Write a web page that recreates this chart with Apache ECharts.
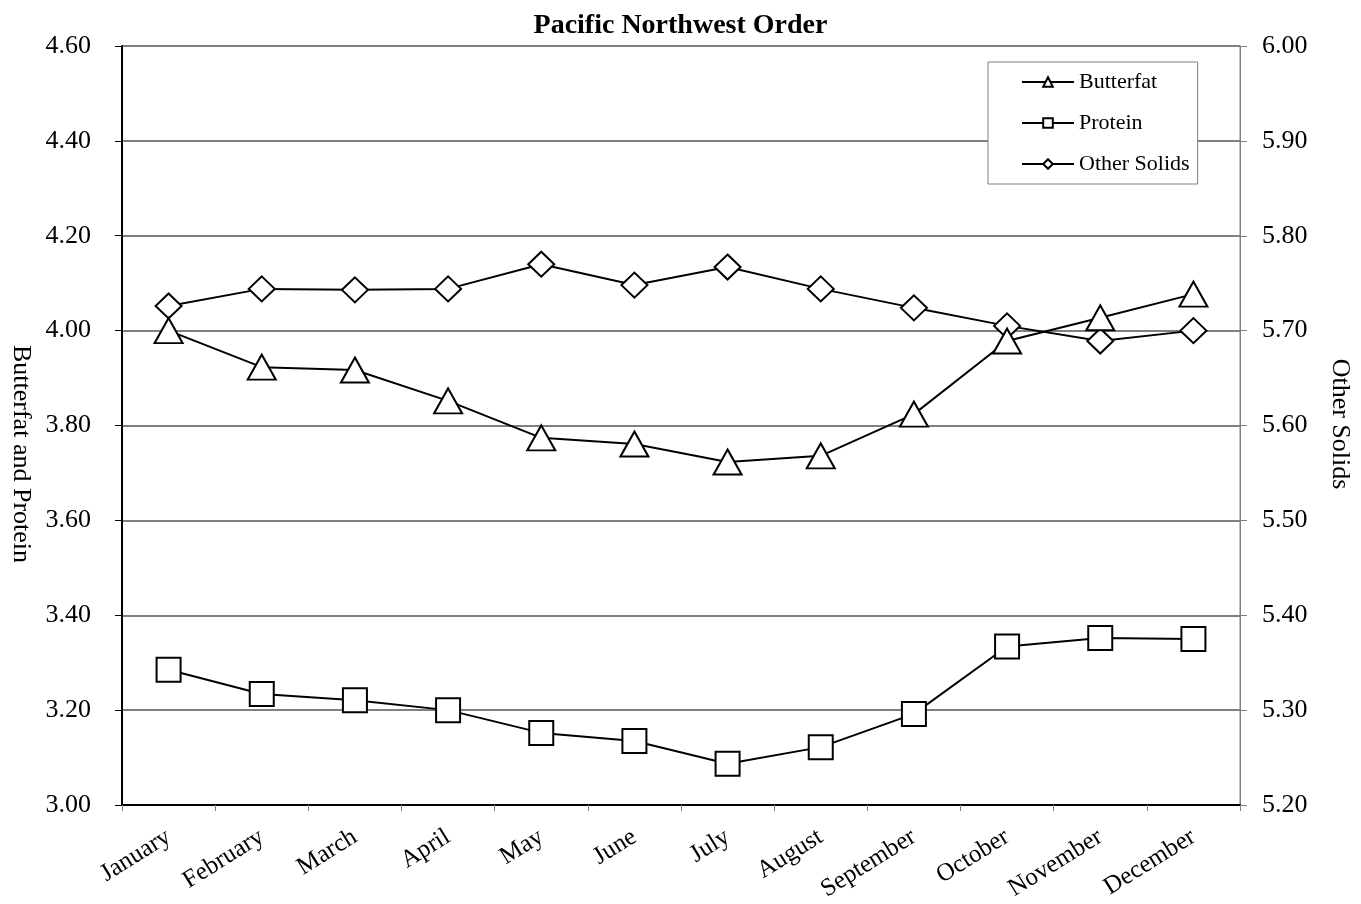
<!DOCTYPE html>
<html><head><meta charset="utf-8">
<script src="https://cdn.jsdelivr.net/npm/echarts@6/dist/echarts.min.js"></script>
<style>html,body{margin:0;padding:0;background:#fff}#c{width:1361px;height:904px}</style>
</head><body><div id="c"></div>
<script>
const months = ['January','February','March','April','May','June','July','August','September','October','November','December'];
const butterfat = [4.00, 3.923, 3.917, 3.852, 3.774, 3.761, 3.723, 3.736, 3.824, 3.978, 4.027, 4.077];
const protein = [3.285, 3.234, 3.221, 3.200, 3.152, 3.135, 3.087, 3.122, 3.192, 3.334, 3.352, 3.350];
const otherSolids = [5.726, 5.744, 5.743, 5.744, 5.770, 5.748, 5.767, 5.744, 5.724, 5.705, 5.689, 5.700];

const font = 'Liberation Serif';
const chart = echarts.init(document.getElementById('c'));
const ls = {color:'#000', width:2};
const is = {color:'#fff', borderColor:'#000', borderWidth:2};
chart.setOption({
  animation:false,
  textStyle:{fontFamily:font, color:'#000'},
  title:{text:'Pacific Northwest Order', left:'center', top:7, textStyle:{fontFamily:font, fontSize:28, fontWeight:'bold', color:'#000'}},
  grid:{left:122, right:121, top:46, bottom:99, show:true, borderColor:'#808080', borderWidth:1},
  legend:{orient:'vertical', left:988, top:62, padding:[9,8,9,33], itemGap:19,
    itemWidth:52, itemHeight:12, borderColor:'#808080', borderWidth:1, backgroundColor:'#fff',
    textStyle:{fontFamily:font, fontSize:22, color:'#000'}, data:['Butterfat','Protein','Other Solids']},
  xAxis:{type:'category', data:months, boundaryGap:true,
    axisLine:{lineStyle:{color:'#000', width:2}}, axisTick:{show:true, length:6, lineStyle:{color:'#808080'}},
    axisLabel:{rotate:32, fontFamily:font, fontSize:25, color:'#000', margin:30, interval:0}},
  yAxis:[
    {type:'value', min:3.0, max:4.6, interval:0.2,
     axisLine:{show:true, lineStyle:{color:'#000', width:2}}, axisTick:{show:true, length:7, lineStyle:{color:'#000'}},
     splitLine:{lineStyle:{color:'#808080', width:2}},
     axisLabel:{formatter:v=>v.toFixed(2), fontFamily:font, fontSize:26, color:'#000', margin:31}},
    {type:'value', min:5.2, max:6.0, interval:0.1,
     axisLine:{show:true, lineStyle:{color:'#808080', width:1}}, axisTick:{show:true, length:7, lineStyle:{color:'#808080'}},
     splitLine:{show:false},
     axisLabel:{formatter:v=>v.toFixed(2), fontFamily:font, fontSize:26, color:'#000', margin:22}}
  ],
  graphic:[
    {type:'text', x:21, y:454, rotation:-Math.PI/2, style:{text:'Butterfat and Protein', font:'26px "Liberation Serif"', fill:'#000', align:'center', verticalAlign:'middle'}},
    {type:'text', x:1340, y:424, rotation:-Math.PI/2, style:{text:'Other Solids', font:'26px "Liberation Serif"', fill:'#000', align:'center', verticalAlign:'middle'}}
  ],
  series:[
    {name:'Butterfat', type:'line', data:butterfat, yAxisIndex:0, symbol:'triangle', symbolSize:[28,25], lineStyle:ls, itemStyle:is, z:3},
    {name:'Protein', type:'line', data:protein, yAxisIndex:0, symbol:'rect', symbolSize:24, lineStyle:ls, itemStyle:is, z:3},
    {name:'Other Solids', type:'line', data:otherSolids, yAxisIndex:1, symbol:'diamond', symbolSize:[26,25], lineStyle:ls, itemStyle:is, z:2}
  ]
});
</script></body></html>
